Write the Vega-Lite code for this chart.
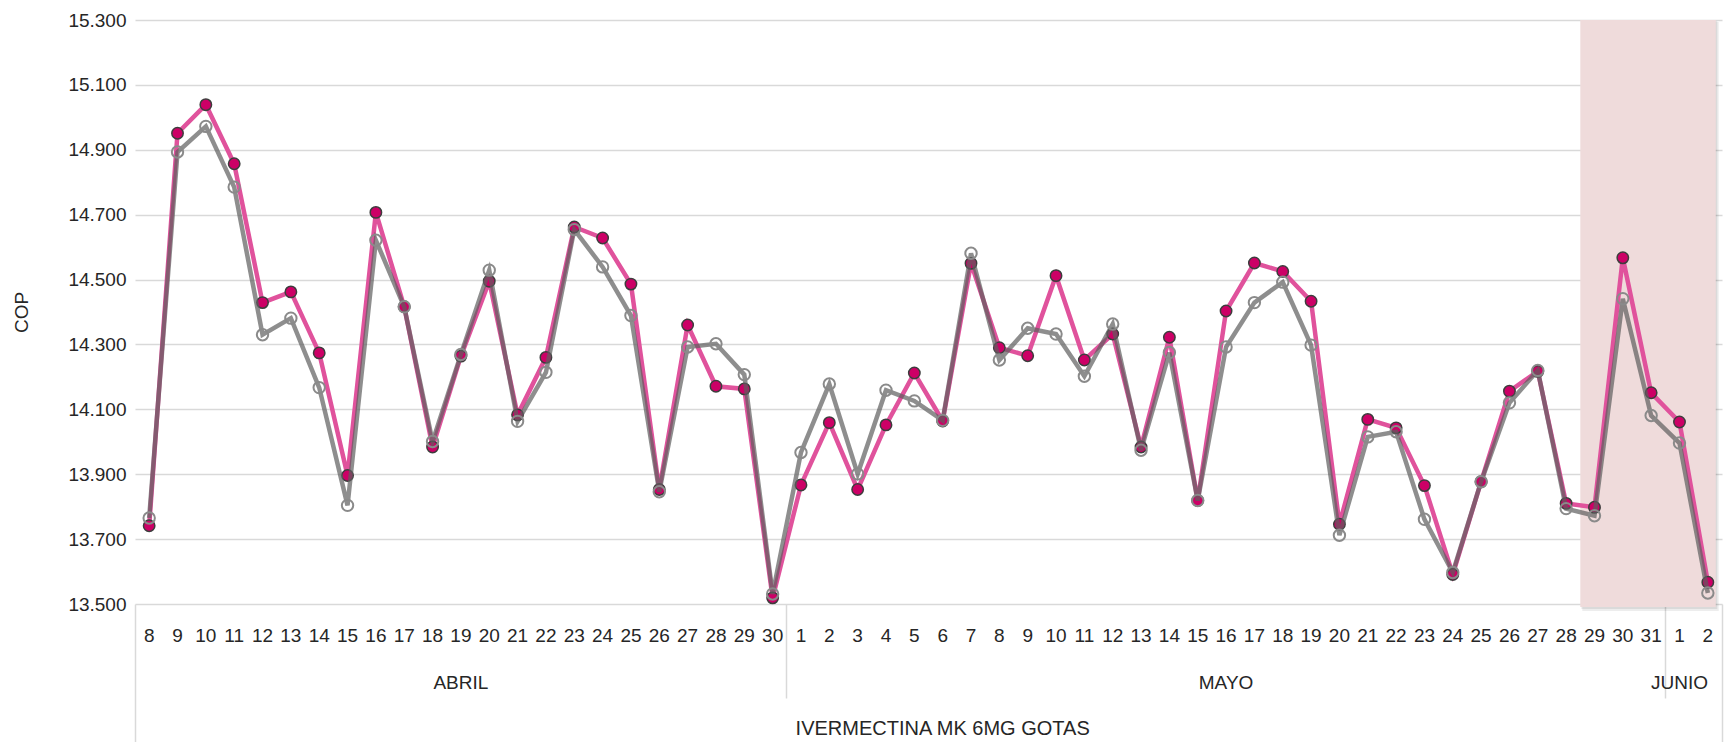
{
  "$schema": "https://vega.github.io/schema/vega-lite/v6.json",
  "width": 1587,
  "height": 584,
  "autosize": "none",
  "padding": {"left": 135, "top": 20, "right": 3, "bottom": 138},
  "config": {
    "view": {"stroke": null},
    "font": "Liberation Sans",
    "scale": {"bandPaddingInner": 0, "bandPaddingOuter": 0}
  },
  "datasets": {
    "zona": [{"desde": "05-29", "hasta": "06-02", "techo": 15300, "piso": 13500}],
    "precios": [
      {"fecha": "04-08", "serie": "Serie 1", "cop": 13741}, {"fecha": "04-08", "serie": "Serie 2", "cop": 13765},
      {"fecha": "04-09", "serie": "Serie 1", "cop": 14951}, {"fecha": "04-09", "serie": "Serie 2", "cop": 14893},
      {"fecha": "04-10", "serie": "Serie 1", "cop": 15039}, {"fecha": "04-10", "serie": "Serie 2", "cop": 14972},
      {"fecha": "04-11", "serie": "Serie 1", "cop": 14857}, {"fecha": "04-11", "serie": "Serie 2", "cop": 14785},
      {"fecha": "04-12", "serie": "Serie 1", "cop": 14429}, {"fecha": "04-12", "serie": "Serie 2", "cop": 14330},
      {"fecha": "04-13", "serie": "Serie 1", "cop": 14462}, {"fecha": "04-13", "serie": "Serie 2", "cop": 14381},
      {"fecha": "04-14", "serie": "Serie 1", "cop": 14274}, {"fecha": "04-14", "serie": "Serie 2", "cop": 14167},
      {"fecha": "04-15", "serie": "Serie 1", "cop": 13896}, {"fecha": "04-15", "serie": "Serie 2", "cop": 13804},
      {"fecha": "04-16", "serie": "Serie 1", "cop": 14707}, {"fecha": "04-16", "serie": "Serie 2", "cop": 14621},
      {"fecha": "04-17", "serie": "Serie 1", "cop": 14416}, {"fecha": "04-17", "serie": "Serie 2", "cop": 14416},
      {"fecha": "04-18", "serie": "Serie 1", "cop": 13984}, {"fecha": "04-18", "serie": "Serie 2", "cop": 14001},
      {"fecha": "04-19", "serie": "Serie 1", "cop": 14264}, {"fecha": "04-19", "serie": "Serie 2", "cop": 14269},
      {"fecha": "04-20", "serie": "Serie 1", "cop": 14495}, {"fecha": "04-20", "serie": "Serie 2", "cop": 14529},
      {"fecha": "04-21", "serie": "Serie 1", "cop": 14083}, {"fecha": "04-21", "serie": "Serie 2", "cop": 14063},
      {"fecha": "04-22", "serie": "Serie 1", "cop": 14260}, {"fecha": "04-22", "serie": "Serie 2", "cop": 14214},
      {"fecha": "04-23", "serie": "Serie 1", "cop": 14662}, {"fecha": "04-23", "serie": "Serie 2", "cop": 14654},
      {"fecha": "04-24", "serie": "Serie 1", "cop": 14628}, {"fecha": "04-24", "serie": "Serie 2", "cop": 14539},
      {"fecha": "04-25", "serie": "Serie 1", "cop": 14486}, {"fecha": "04-25", "serie": "Serie 2", "cop": 14389},
      {"fecha": "04-26", "serie": "Serie 1", "cop": 13853}, {"fecha": "04-26", "serie": "Serie 2", "cop": 13846},
      {"fecha": "04-27", "serie": "Serie 1", "cop": 14360}, {"fecha": "04-27", "serie": "Serie 2", "cop": 14292},
      {"fecha": "04-28", "serie": "Serie 1", "cop": 14171}, {"fecha": "04-28", "serie": "Serie 2", "cop": 14302},
      {"fecha": "04-29", "serie": "Serie 1", "cop": 14163}, {"fecha": "04-29", "serie": "Serie 2", "cop": 14207},
      {"fecha": "04-30", "serie": "Serie 1", "cop": 13519}, {"fecha": "04-30", "serie": "Serie 2", "cop": 13531},
      {"fecha": "05-01", "serie": "Serie 1", "cop": 13867}, {"fecha": "05-01", "serie": "Serie 2", "cop": 13967},
      {"fecha": "05-02", "serie": "Serie 1", "cop": 14059}, {"fecha": "05-02", "serie": "Serie 2", "cop": 14178},
      {"fecha": "05-03", "serie": "Serie 1", "cop": 13853}, {"fecha": "05-03", "serie": "Serie 2", "cop": 13901},
      {"fecha": "05-04", "serie": "Serie 1", "cop": 14052}, {"fecha": "05-04", "serie": "Serie 2", "cop": 14159},
      {"fecha": "05-05", "serie": "Serie 1", "cop": 14212}, {"fecha": "05-05", "serie": "Serie 2", "cop": 14126},
      {"fecha": "05-06", "serie": "Serie 1", "cop": 14064}, {"fecha": "05-06", "serie": "Serie 2", "cop": 14066},
      {"fecha": "05-07", "serie": "Serie 1", "cop": 14550}, {"fecha": "05-07", "serie": "Serie 2", "cop": 14581},
      {"fecha": "05-08", "serie": "Serie 1", "cop": 14290}, {"fecha": "05-08", "serie": "Serie 2", "cop": 14252},
      {"fecha": "05-09", "serie": "Serie 1", "cop": 14265}, {"fecha": "05-09", "serie": "Serie 2", "cop": 14350},
      {"fecha": "05-10", "serie": "Serie 1", "cop": 14512}, {"fecha": "05-10", "serie": "Serie 2", "cop": 14332},
      {"fecha": "05-11", "serie": "Serie 1", "cop": 14252}, {"fecha": "05-11", "serie": "Serie 2", "cop": 14202},
      {"fecha": "05-12", "serie": "Serie 1", "cop": 14332}, {"fecha": "05-12", "serie": "Serie 2", "cop": 14363},
      {"fecha": "05-13", "serie": "Serie 1", "cop": 13984}, {"fecha": "05-13", "serie": "Serie 2", "cop": 13974},
      {"fecha": "05-14", "serie": "Serie 1", "cop": 14322}, {"fecha": "05-14", "serie": "Serie 2", "cop": 14275},
      {"fecha": "05-15", "serie": "Serie 1", "cop": 13819}, {"fecha": "05-15", "serie": "Serie 2", "cop": 13819},
      {"fecha": "05-16", "serie": "Serie 1", "cop": 14403}, {"fecha": "05-16", "serie": "Serie 2", "cop": 14292},
      {"fecha": "05-17", "serie": "Serie 1", "cop": 14551}, {"fecha": "05-17", "serie": "Serie 2", "cop": 14429},
      {"fecha": "05-18", "serie": "Serie 1", "cop": 14525}, {"fecha": "05-18", "serie": "Serie 2", "cop": 14492},
      {"fecha": "05-19", "serie": "Serie 1", "cop": 14433}, {"fecha": "05-19", "serie": "Serie 2", "cop": 14298},
      {"fecha": "05-20", "serie": "Serie 1", "cop": 13746}, {"fecha": "05-20", "serie": "Serie 2", "cop": 13712},
      {"fecha": "05-21", "serie": "Serie 1", "cop": 14069}, {"fecha": "05-21", "serie": "Serie 2", "cop": 14015},
      {"fecha": "05-22", "serie": "Serie 1", "cop": 14043}, {"fecha": "05-22", "serie": "Serie 2", "cop": 14031},
      {"fecha": "05-23", "serie": "Serie 1", "cop": 13865}, {"fecha": "05-23", "serie": "Serie 2", "cop": 13761},
      {"fecha": "05-24", "serie": "Serie 1", "cop": 13591}, {"fecha": "05-24", "serie": "Serie 2", "cop": 13597},
      {"fecha": "05-25", "serie": "Serie 1", "cop": 13877}, {"fecha": "05-25", "serie": "Serie 2", "cop": 13877},
      {"fecha": "05-26", "serie": "Serie 1", "cop": 14156}, {"fecha": "05-26", "serie": "Serie 2", "cop": 14120},
      {"fecha": "05-27", "serie": "Serie 1", "cop": 14217}, {"fecha": "05-27", "serie": "Serie 2", "cop": 14220},
      {"fecha": "05-28", "serie": "Serie 1", "cop": 13810}, {"fecha": "05-28", "serie": "Serie 2", "cop": 13794},
      {"fecha": "05-29", "serie": "Serie 1", "cop": 13798}, {"fecha": "05-29", "serie": "Serie 2", "cop": 13772},
      {"fecha": "05-30", "serie": "Serie 1", "cop": 14567}, {"fecha": "05-30", "serie": "Serie 2", "cop": 14441},
      {"fecha": "05-31", "serie": "Serie 1", "cop": 14151}, {"fecha": "05-31", "serie": "Serie 2", "cop": 14081},
      {"fecha": "06-01", "serie": "Serie 1", "cop": 14061}, {"fecha": "06-01", "serie": "Serie 2", "cop": 13996},
      {"fecha": "06-02", "serie": "Serie 1", "cop": 13567}, {"fecha": "06-02", "serie": "Serie 2", "cop": 13534}
    ]
  },
  "resolve": {"axis": {"x": "independent"}},
  "layer": [
    {
      "data": {"name": "zona"},
      "mark": {"type": "rect", "color": "#000000", "opacity": 0.07, "xOffset": 2, "x2Offset": 3, "yOffset": 2, "y2Offset": 7},
      "encoding": {
        "x": {"field": "desde", "type": "ordinal", "scale": {"type": "band"}, "bandPosition": 0, "axis": null},
        "x2": {"field": "hasta", "bandPosition": 0.78},
        "y": {"field": "techo", "type": "quantitative", "scale": {"domain": [13500, 15300], "nice": false}},
        "y2": {"field": "piso"}
      }
    },
    {
      "data": {"name": "zona"},
      "mark": {"type": "rect", "color": "#000000", "opacity": 0.08, "xOffset": 1, "x2Offset": 1.5, "yOffset": 1, "y2Offset": 5},
      "encoding": {
        "x": {"field": "desde", "type": "ordinal", "scale": {"type": "band"}, "bandPosition": 0, "axis": null},
        "x2": {"field": "hasta", "bandPosition": 0.78},
        "y": {"field": "techo", "type": "quantitative"},
        "y2": {"field": "piso"}
      }
    },
    {
      "data": {"name": "zona"},
      "mark": {"type": "rect", "color": "#EFDBDB", "opacity": 1, "y2Offset": 3},
      "encoding": {
        "x": {"field": "desde", "type": "ordinal", "scale": {"type": "band"}, "bandPosition": 0, "axis": null},
        "x2": {"field": "hasta", "bandPosition": 0.78},
        "y": {"field": "techo", "type": "quantitative"},
        "y2": {"field": "piso"}
      }
    },
    {
      "data": {"name": "precios"},
      "transform": [{"filter": "datum.serie === 'Serie 1'"}],
      "mark": {"type": "line", "color": "#E0529C", "strokeWidth": 4.5},
      "encoding": {
        "x": {"field": "fecha", "type": "ordinal", "scale": {"type": "band"}, "axis": null},
        "y": {
          "field": "cop", "type": "quantitative",
          "scale": {"domain": [13500, 15300], "nice": false},
          "axis": {
            "title": "COP",
            "values": [13500, 13700, 13900, 14100, 14300, 14500, 14700, 14900, 15100, 15300],
            "labelExpr": "replace(format(datum.value, ','), ',', '.')",
            "domain": false, "ticks": false, "grid": true,
            "gridColor": "#D9D9D9", "gridWidth": 1.5,
            "labelPadding": 9, "labelFontSize": 19, "labelColor": "#262626",
            "titleFontSize": 19, "titleFontWeight": "normal", "titleColor": "#262626", "titlePadding": 36
          }
        }
      }
    },
    {
      "data": {"name": "precios"},
      "transform": [{"filter": "datum.serie === 'Serie 1'"}],
      "mark": {"type": "point", "filled": true, "fill": "#CC0066", "stroke": "#3D3D3D", "strokeWidth": 1.5, "size": 130, "opacity": 1},
      "encoding": {
        "x": {"field": "fecha", "type": "ordinal", "scale": {"type": "band"}, "axis": null},
        "y": {"field": "cop", "type": "quantitative"}
      }
    },
    {
      "data": {"name": "precios"},
      "transform": [{"filter": "datum.serie === 'Serie 2'"}],
      "mark": {"type": "line", "color": "#5E5E5E", "opacity": 0.7, "strokeWidth": 4.5},
      "encoding": {
        "x": {"field": "fecha", "type": "ordinal", "scale": {"type": "band"}, "axis": null},
        "y": {"field": "cop", "type": "quantitative"}
      }
    },
    {
      "data": {"name": "precios"},
      "transform": [{"filter": "datum.serie === 'Serie 2'"}],
      "mark": {"type": "point", "filled": false, "color": "#8A8A8A", "strokeWidth": 2, "size": 130, "opacity": 1},
      "encoding": {
        "x": {"field": "fecha", "type": "ordinal", "scale": {"type": "band"}, "axis": null},
        "y": {"field": "cop", "type": "quantitative"}
      }
    },
    {
      "data": {"name": "precios"},
      "transform": [{"filter": "datum.serie === 'Serie 1'"}],
      "mark": {"type": "point", "opacity": 0},
      "encoding": {
        "x": {"field": "fecha", "type": "ordinal", "scale": {"type": "band"},
          "axis": {"orient": "bottom", "title": null, "labelExpr": "parseInt(substring(datum.value, 3))", "labelAngle": 0,
            "ticks": false, "domain": false, "grid": false, "labelPadding": 22, "labelFontSize": 19, "labelColor": "#262626"}}
      }
    },
    {
      "data": {"name": "precios"},
      "transform": [{"filter": "datum.serie === 'Serie 1'"}],
      "mark": {"type": "point", "opacity": 0},
      "encoding": {
        "x": {"field": "fecha", "type": "ordinal", "scale": {"type": "band"},
          "axis": {"orient": "bottom", "title": null, "values": ["05-01", "06-01"], "bandPosition": 0, "labels": false,
            "ticks": true, "tickSize": 94, "tickColor": "#D9D9D9", "tickWidth": 1.5, "domain": false, "grid": false}}
      }
    },
    {
      "data": {"name": "precios"},
      "transform": [{"filter": "datum.serie === 'Serie 1'"}],
      "mark": {"type": "point", "opacity": 0},
      "encoding": {
        "x": {"field": "fecha", "type": "ordinal", "scale": {"type": "band"},
          "axis": {"orient": "bottom", "title": null, "values": ["04-08"], "bandPosition": 0, "labels": false,
            "ticks": true, "tickSize": 140, "tickColor": "#D9D9D9", "tickWidth": 1.5, "domain": false, "grid": false}}
      }
    },
    {
      "data": {"name": "precios"},
      "transform": [{"filter": "datum.serie === 'Serie 1'"}],
      "mark": {"type": "point", "opacity": 0},
      "encoding": {
        "x": {"field": "fecha", "type": "ordinal", "scale": {"type": "band"},
          "axis": {"orient": "bottom", "title": null, "values": ["06-02"], "bandPosition": 1, "labels": false,
            "ticks": true, "tickSize": 140, "tickColor": "#D9D9D9", "tickWidth": 1.5, "domain": false, "grid": false}}
      }
    },
    {
      "data": {"name": "precios"},
      "transform": [{"filter": "datum.serie === 'Serie 1'"}],
      "mark": {"type": "point", "opacity": 0},
      "encoding": {
        "x": {"field": "fecha", "type": "ordinal", "scale": {"type": "band"},
          "axis": {"orient": "bottom", "title": null, "values": ["04-19", "05-16"],
            "labelExpr": "substring(datum.value, 0, 2) === '04' ? 'ABRIL' : 'MAYO'", "labelAngle": 0,
            "ticks": false, "domain": false, "grid": false, "labelPadding": 69, "labelFontSize": 19, "labelColor": "#262626"}}
      }
    },
    {
      "data": {"name": "precios"},
      "transform": [{"filter": "datum.serie === 'Serie 1'"}],
      "mark": {"type": "point", "opacity": 0},
      "encoding": {
        "x": {"field": "fecha", "type": "ordinal", "scale": {"type": "band"},
          "axis": {"orient": "bottom", "title": null, "values": ["06-01"], "bandPosition": 1,
            "labelExpr": "'JUNIO'", "labelAngle": 0,
            "ticks": false, "domain": false, "grid": false, "labelPadding": 69, "labelFontSize": 19, "labelColor": "#262626"}}
      }
    },
    {
      "data": {"name": "precios"},
      "transform": [{"filter": "datum.serie === 'Serie 1'"}],
      "mark": {"type": "point", "opacity": 0},
      "encoding": {
        "x": {"field": "fecha", "type": "ordinal", "scale": {"type": "band"},
          "axis": {"orient": "bottom", "title": null, "values": ["05-06"], "bandPosition": 0,
            "labelExpr": "'IVERMECTINA MK 6MG GOTAS'", "labelAngle": 0, "labelLimit": 0,
            "ticks": false, "domain": false, "grid": false, "labelPadding": 114, "labelFontSize": 20, "labelColor": "#262626"}}
      }
    }
  ]
}
